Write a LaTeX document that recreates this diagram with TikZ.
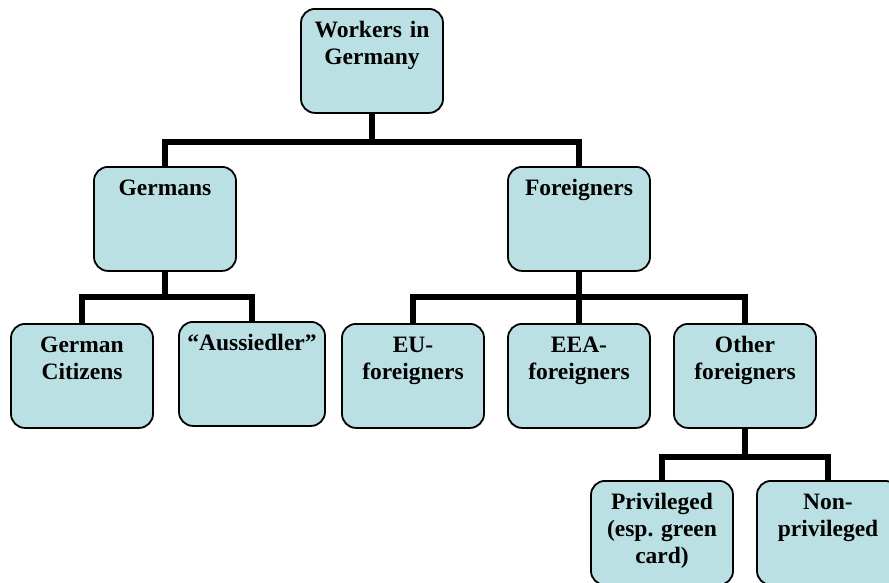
\documentclass[tikz,border=0pt]{standalone}
\usepackage{fontspec}
\setmainfont{Liberation Serif}
\usepackage{tikz}
\definecolor{boxfill}{RGB}{187,224,227}
\frenchspacing

\begin{document}
\begin{tikzpicture}[
  x=1pt, y=-1pt,
  font=\bfseries\fontsize{23.5}{27}\selectfont,
  box/.style={draw=black, fill=boxfill, line width=1.8pt, rounded corners=14pt, anchor=north, align=center, text width=134pt, inner xsep=4pt, inner ysep=12pt, text height=17pt, text depth=63pt},
  conn/.style={line width=5.5pt, draw=black},
]
\clip (0,0) rectangle (889,582);
\useasboundingbox (0,0) rectangle (889,582);
% row 1
\node[box] (work) at (372,8) {Workers in\\Germany};
% row 2
\node[box] (germ) at (165,166) {Germans};
\node[box] (forg) at (579,166) {Foreigners};
% row 3
\node[box] (cit)  at (82,323)  {German\\Citizens};
\node[box, text width=138pt] (auss) at (252,321) {“Aussiedler”};
\node[box] (eu)   at (413,323) {EU-\\foreigners};
\node[box] (eea)  at (579,323) {EEA-\\foreigners};
\node[box] (oth)  at (745,323) {Other\\foreigners};
% row 4
\node[box] (priv) at (662,480) {Privileged\\(esp. green\\card)};
\node[box] (nonp) at (828,480) {Non-\\privileged};
% junctions
\coordinate (j1) at (372,142);
\coordinate (j2) at (165,297);
\coordinate (j3) at (579,297);
\coordinate (j4) at (745,457);
% connectors
\draw[conn] (work.south) -- (j1);
\draw[conn] (germ.north) |- (j1) -| (forg.north);
\draw[conn] (germ.south) -- (j2);
\draw[conn] (cit.north) |- (j2) -| (auss.north);
\draw[conn] (forg.south) -- (eea.north);
\draw[conn] (eu.north) |- (j3) -| (oth.north);
\draw[conn] (oth.south) -- (j4);
\draw[conn] (priv.north) |- (j4) -| (nonp.north);
\end{tikzpicture}
\end{document}
